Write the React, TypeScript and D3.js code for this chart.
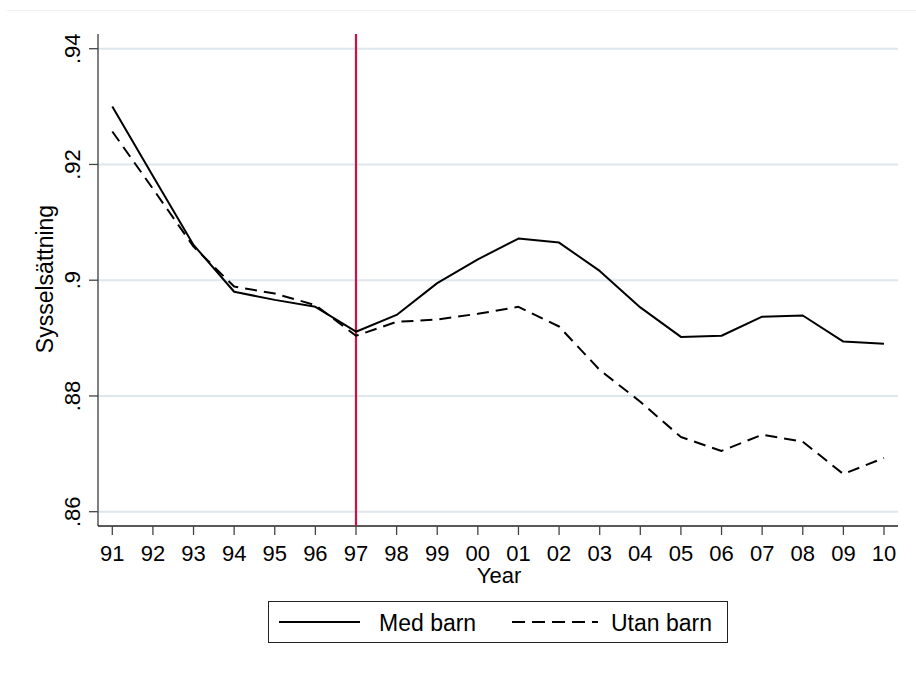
import React from "react";
import * as d3 from "d3";

const years = ["91","92","93","94","95","96","97","98","99","00","01","02","03","04","05","06","07","08","09","10"];
const medBarn = [0.930,0.918,0.9061,0.898,0.8966,0.8954,0.8911,0.894,0.8995,0.9036,0.9072,0.9065,0.9016,0.8953,0.8902,0.8904,0.8937,0.8939,0.8894,0.889];
const utanBarn = [0.9257,0.9158,0.9058,0.8989,0.8977,0.8957,0.8904,0.8928,0.8932,0.8942,0.8954,0.892,0.8845,0.879,0.8729,0.8705,0.8733,0.8721,0.8665,0.8693];
const yTicks = [0.86,0.88,0.9,0.92,0.94];
const yTickLabels = [".86",".88",".9",".92",".94"];
const markerYear = "97";
const seriesNames = ["Med barn","Utan barn"];

const W = 916, H = 673;
const FONT = "'Liberation Sans', Arial, Helvetica, sans-serif";

export default function App() {
  const x = d3.scaleLinear().domain([0, years.length - 1]).range([112.3, 884]);
  const y = d3.scaleLinear().domain([0.86, 0.94]).range([511.7, 48.7]);
  const plotLeft = 98, plotRight = 898, plotTop = 34, plotBottom = 526;
  const line = d3.line<number>().x((_, i) => x(i)).y(d => y(d));
  const mIdx = years.indexOf(markerYear);

  return (
    <svg width={W} height={H} style={{ position: "absolute", left: 0, top: 0, background: "#fff" }} fontFamily={FONT}>
      <rect x={0} y={0} width={W} height={H} fill="#fff" />
      <line x1={7} x2={W} y1={10.5} y2={10.5} stroke="#efefef" strokeWidth={1} />
      {yTicks.map((t, i) => (
        <line key={"g" + i} x1={plotLeft} x2={plotRight} y1={y(t)} y2={y(t)} stroke="#dde7ee" strokeWidth={2} />
      ))}
      <line x1={plotLeft} x2={plotLeft} y1={plotTop} y2={plotBottom} stroke="#555" strokeWidth={1.5} />
      {yTicks.map((t, i) => (
        <g key={"yt" + i}>
          <line x1={89} x2={plotLeft} y1={y(t)} y2={y(t)} stroke="#444" strokeWidth={1.3} />
          <text transform={`translate(80,${y(t)}) rotate(-90)`} textAnchor="middle" fontSize={22} fill="#000">{yTickLabels[i]}</text>
        </g>
      ))}
      <text transform={`translate(53,279) rotate(-90)`} textAnchor="middle" fontSize={23} fill="#000">Sysselsättning</text>
      <line x1={plotLeft} x2={plotRight} y1={plotBottom} y2={plotBottom} stroke="#222" strokeWidth={1.5} />
      {years.map((yr, i) => (
        <g key={"xt" + i}>
          <line x1={x(i)} x2={x(i)} y1={plotBottom} y2={plotBottom + 9} stroke="#444" strokeWidth={1.3} />
          <text x={x(i)} y={561} textAnchor="middle" fontSize={22} fill="#000">{yr}</text>
        </g>
      ))}
      <text x={499} y={583} textAnchor="middle" fontSize={22} fill="#000">Year</text>
      <line x1={x(mIdx)} x2={x(mIdx)} y1={plotTop} y2={plotBottom} stroke="#d01140" strokeWidth={2.2} />
      <path d={line(medBarn) || ""} fill="none" stroke="#000" strokeWidth={2} strokeLinejoin="round" />
      <path d={line(utanBarn) || ""} fill="none" stroke="#000" strokeWidth={2} strokeDasharray="12,7" strokeLinejoin="round" />
      <rect x={268.5} y={601.5} width={459} height={41} fill="#fff" stroke="#222" strokeWidth={1} />
      <line x1={279} x2={360} y1={622} y2={622} stroke="#000" strokeWidth={2} />
      <text x={379} y={631} fontSize={23} fill="#000">{seriesNames[0]}</text>
      <line x1={512} x2={598} y1={622} y2={622} stroke="#000" strokeWidth={2} strokeDasharray="13,7" />
      <text x={611} y={631} fontSize={23} fill="#000">{seriesNames[1]}</text>
    </svg>
  );
}
